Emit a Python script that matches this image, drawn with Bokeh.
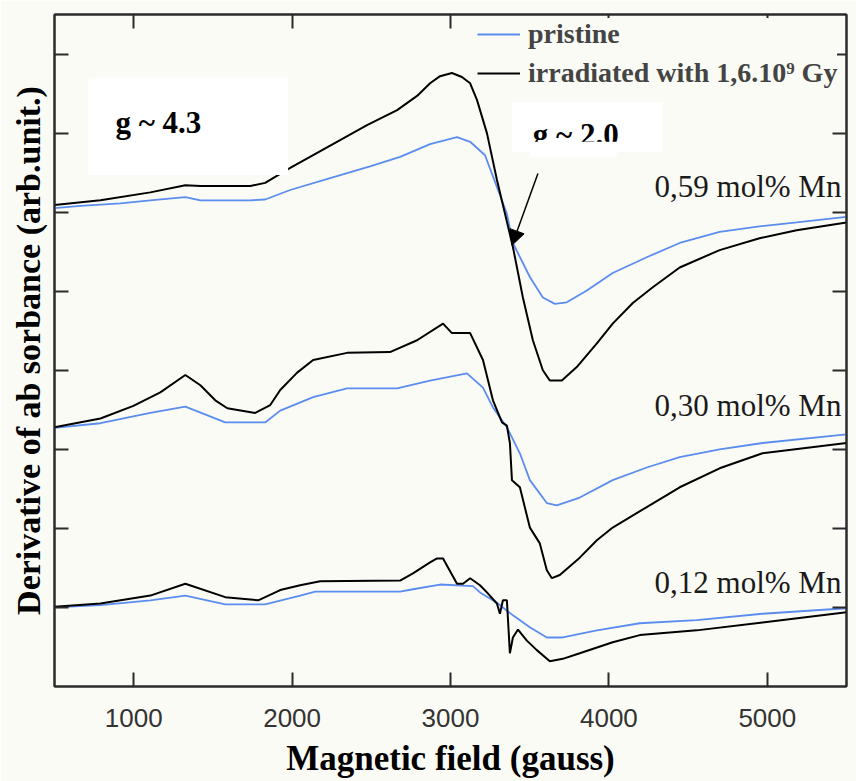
from bokeh.plotting import figure
from bokeh.models import (LinearAxis, Range1d, FixedTicker, Legend, LegendItem, Label,
                          BoxAnnotation, Arrow, NormalHead, CustomJSTickFormatter)
from bokeh.embed import file_html
from bokeh.resources import INLINE

# ---------------- data ----------------
x_ticks = [1000, 2000, 3000, 4000, 5000]
y_ticks = [1, 2, 3, 4, 5, 6, 7, 8]

# 0,59 mol% Mn
p059_x = [500, 664, 916, 1105, 1326, 1421, 1736, 1830, 1988, 2240, 2492, 2682, 2871, 3041, 3124, 3218,
          3293, 3356, 3394, 3501, 3583, 3659, 3734, 3861, 4024, 4239, 4447, 4699, 4950, 5185, 5500]
p059_y = [6.05, 6.08, 6.11, 6.15, 6.19, 6.15, 6.15, 6.16, 6.28, 6.43, 6.58, 6.70, 6.86, 6.95, 6.89, 6.72,
          6.32, 5.98, 5.61, 5.18, 4.92, 4.84, 4.86, 5.01, 5.23, 5.43, 5.61, 5.75, 5.82, 5.87, 5.94]
i059_x = [500, 790, 1105, 1326, 1421, 1736, 1830, 1988, 2150, 2303, 2473, 2663, 2789, 2871, 2934, 3009,
          3072, 3124, 3167, 3230, 3293, 3394, 3457, 3520, 3583, 3627, 3703, 3797, 3924, 4024, 4151, 4277,
          4447, 4699, 4951, 5185, 5500]
i059_y = [6.09, 6.15, 6.25, 6.34, 6.33, 6.33, 6.37, 6.56, 6.74, 6.91, 7.10, 7.29, 7.47, 7.63, 7.72, 7.76,
          7.71, 7.63, 7.42, 7.00, 6.41, 5.56, 4.92, 4.38, 4.00, 3.87, 3.87, 4.04, 4.34, 4.59, 4.85, 5.05,
          5.30, 5.52, 5.67, 5.77, 5.87]

# 0,30 mol% Mn
p030_x = [500, 790, 1105, 1326, 1578, 1830, 1925, 2133, 2347, 2663, 2871, 3104, 3205, 3268, 3356, 3438,
          3501, 3608, 3671, 3816, 4024, 4239, 4447, 4699, 4970, 5500]
p030_y = [3.27, 3.33, 3.46, 3.54, 3.34, 3.34, 3.49, 3.66, 3.77, 3.77, 3.87, 3.96, 3.78, 3.53, 3.28, 2.95,
          2.61, 2.32, 2.29, 2.39, 2.61, 2.77, 2.90, 3.00, 3.08, 3.19]
i030_x = [500, 790, 998, 1168, 1326, 1421, 1515, 1591, 1767, 1862, 1925, 2032, 2133, 2347, 2618, 2789,
          2953, 3009, 3124, 3205, 3268, 3325, 3356, 3375, 3388, 3438, 3501, 3564, 3608, 3640, 3690, 3816,
          3924, 4024, 4239, 4447, 4699, 4970, 5500]
i030_y = [3.28, 3.39, 3.55, 3.72, 3.94, 3.81, 3.62, 3.52, 3.46, 3.56, 3.75, 3.97, 4.13, 4.22, 4.23, 4.38,
          4.59, 4.47, 4.47, 4.13, 3.62, 3.34, 3.30, 3.08, 2.61, 2.52, 2.01, 1.81, 1.47, 1.37, 1.41, 1.63,
          1.85, 2.01, 2.27, 2.52, 2.76, 2.95, 3.08]

# 0,12 mol% Mn
p012_x = [500, 790, 1105, 1326, 1578, 1830, 2051, 2146, 2682, 2763, 2934, 3142, 3186, 3293, 3394, 3501,
          3608, 3709, 3924, 4195, 4554, 4970, 5500]
p012_y = [1.00, 1.03, 1.09, 1.15, 1.04, 1.04, 1.15, 1.20, 1.20, 1.23, 1.29, 1.27, 1.19, 1.06, 0.90, 0.75,
          0.62, 0.62, 0.71, 0.80, 0.84, 0.92, 0.99]
i012_x = [500, 790, 1105, 1326, 1578, 1786, 1925, 2051, 2177, 2682, 2763, 2871, 2915, 2953, 3041, 3079,
          3124, 3186, 3230, 3293, 3312, 3331, 3356, 3375, 3394, 3426, 3482, 3545, 3627, 3709, 3816, 4024,
          4195, 4554, 4970, 5500]
i012_y = [1.01, 1.05, 1.15, 1.30, 1.13, 1.09, 1.22, 1.28, 1.33, 1.34, 1.43, 1.57, 1.62, 1.62, 1.30, 1.30,
          1.37, 1.28, 1.19, 1.05, 0.92, 1.09, 1.09, 0.42, 0.62, 0.72, 0.58, 0.46, 0.32, 0.35, 0.42, 0.56,
          0.65, 0.71, 0.81, 0.94]

series_labels = ["pristine", "irradiated with 1,6.10\u2079 Gy"]
sample_labels = ["0,59 mol% Mn", "0,30 mol% Mn", "0,12 mol% Mn"]
sample_label_y = [6.32, 3.56, 1.31]

# ---------------- styling ----------------
BG = "#fbfbf6"
BLUE = "#5b8def"
AX = "#2b2b2b"
SERIF = "Liberation Serif"

p = figure(frame_width=792, frame_height=672,
           x_range=Range1d(500, 5500), y_range=Range1d(0, 8.5),
           output_backend="svg", toolbar_location=None,
           min_border_left=54, min_border_top=14, min_border_right=10, min_border_bottom=95,
           background_fill_color=BG, border_fill_color=BG,
           x_axis_label="Magnetic field (gauss)",
           y_axis_label="Derivative of ab sorbance (arb.unit.)")
p.grid.visible = False
p.outline_line_color = AX
p.outline_line_width = 2

empty = CustomJSTickFormatter(code="return ''")


def style_axis(ax):
    ax.axis_line_color = AX
    ax.axis_line_width = 2
    ax.major_tick_in = 14
    ax.major_tick_out = 0
    ax.major_tick_line_width = 2
    ax.major_tick_line_color = AX
    ax.minor_tick_line_color = None


xa = p.xaxis[0]
xa.ticker = FixedTicker(ticks=x_ticks)
style_axis(xa)
xa.major_label_text_font = "Liberation Sans"
xa.major_label_text_font_size = "26px"
xa.major_label_text_color = "#333333"
xa.major_label_standoff = 22
xa.axis_label_text_font = SERIF
xa.axis_label_text_font_style = "bold"
xa.axis_label_text_font_size = "35px"
xa.axis_label_text_color = "black"
xa.axis_label_standoff = 9

ya = p.yaxis[0]
ya.ticker = FixedTicker(ticks=y_ticks)
style_axis(ya)
ya.formatter = empty
ya.major_label_text_font_size = "0px"
ya.major_label_standoff = 0
ya.axis_label_text_font = SERIF
ya.axis_label_text_font_style = "bold"
ya.axis_label_text_font_size = "34px"
ya.axis_label_text_color = "black"
ya.axis_label_standoff = 8

top = LinearAxis(ticker=FixedTicker(ticks=x_ticks), formatter=empty,
                 major_label_text_font_size="0px", major_label_standoff=0)
style_axis(top)
p.add_layout(top, "above")
right = LinearAxis(ticker=FixedTicker(ticks=y_ticks), formatter=empty,
                   major_label_text_font_size="0px", major_label_standoff=0)
style_axis(right)
p.add_layout(right, "right")

# ---------------- curves ----------------
rp1 = p.line(p059_x, p059_y, line_color=BLUE, line_width=1.8)
rp2 = p.line(p030_x, p030_y, line_color=BLUE, line_width=1.8)
rp3 = p.line(p012_x, p012_y, line_color=BLUE, line_width=1.8)
ri1 = p.line(i059_x, i059_y, line_color="black", line_width=2)
ri2 = p.line(i030_x, i030_y, line_color="black", line_width=2)
ri3 = p.line(i012_x, i012_y, line_color="black", line_width=2)

# ---------------- annotations ----------------
p.add_layout(BoxAnnotation(left=714, right=1975, bottom=6.47, top=7.70,
                           fill_color="white", fill_alpha=1, line_color=None))
p.add_layout(Label(x=885, y=7.13, text="g ~ 4.3", text_font=SERIF, text_font_style="bold",
                   text_font_size="31px", text_baseline="alphabetic", text_color="black"))

p.add_layout(BoxAnnotation(left=3388, right=4340, bottom=6.76, top=7.39,
                           fill_color="white", fill_alpha=1, line_color=None))
p.add_layout(Label(x=3520, y=6.98, text="g ~ 2.0", text_font=SERIF, text_font_style="bold",
                   text_font_size="31px", text_baseline="alphabetic", text_color="black"))
p.add_layout(BoxAnnotation(left=3500, right=4050, bottom=6.70, top=6.89,
                           fill_color="white", fill_alpha=1, line_color=None))

p.add_layout(Arrow(end=NormalHead(size=15, fill_color="black", line_color="black"),
                   x_start=3552, y_start=6.49, x_end=3388, y_end=5.58,
                   line_color="black", line_width=1.5))

for txt, yy in zip(sample_labels, sample_label_y):
    p.add_layout(Label(x=5468, y=yy, text=txt, text_font=SERIF, text_font_size="31px",
                       text_align="right", text_baseline="alphabetic", text_color="#1a1a1a"))

legend = Legend(items=[LegendItem(label=series_labels[0], renderers=[rp1]),
                       LegendItem(label=series_labels[1], renderers=[ri1])],
                location=(423, 597))
legend.glyph_width = 43
legend.glyph_height = 30
legend.label_height = 30
legend.spacing = 7
legend.padding = 0
legend.margin = 0
legend.label_standoff = 8
legend.label_text_font = SERIF
legend.label_text_font_style = "bold"
legend.label_text_font_size = "28px"
legend.border_line_color = None
legend.background_fill_color = BG
legend.background_fill_alpha = 1
p.add_layout(legend)

open("out.html", "w").write(file_html(p, INLINE))
